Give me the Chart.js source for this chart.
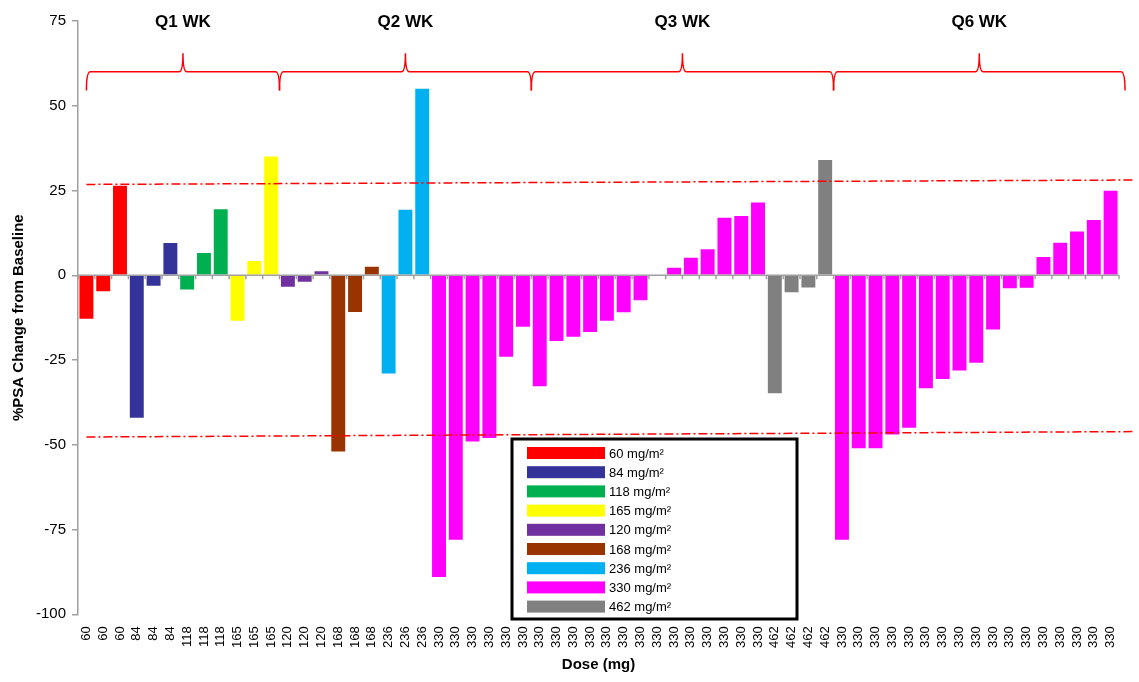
<!DOCTYPE html>
<html>
<head>
<meta charset="utf-8">
<script src="https://cdn.jsdelivr.net/npm/chart.js@4.4.1/dist/chart.umd.min.js"></script>
<style>
  html, body { margin: 0; padding: 0; background: #fff; }
  #wrap { width: 1139px; height: 682px; }
</style>
</head>
<body>
<div id="wrap"><canvas id="chart"></canvas></div>
<script>
// dose (mg) per patient, in plotted order
const doseLabels = [
  '60', '60', '60', '84', '84', '84', '118', '118', '118', '165', '165', '165',
  '120', '120', '120', '168', '168', '168', '236', '236', '236',
  '330', '330', '330', '330', '330', '330',
  '330', '330', '330', '330', '330', '330', '330', '330', '330', '330', '330', '330', '330', '330',
  '462', '462', '462', '462',
  '330', '330', '330', '330', '330', '330', '330', '330', '330', '330', '330', '330', '330', '330', '330', '330', '330'
]

// % PSA change from baseline
const psaChange = [
  -12.8, -4.7, 26.4, -42, -3.1, 9.5, -4.2, 6.6, 19.5, -13.4, 4.2, 35,
  -3.4, -1.9, 1.2, -52, -10.8, 2.5, -29, 19.3, 55,
  -89, -78, -49, -48, -24, -15.2,
  -32.7, -19.4, -18.1, -16.7, -13.4, -10.9, -7.4, 0, 2.2, 5.2, 7.7, 17, 17.5, 21.5,
  -34.8, -5, -3.6, 34,
  -78, -51, -51, -47, -45, -33.3, -30.6, -28.1, -25.8, -16, -3.8, -3.7, 5.4, 9.6, 12.9, 16.3, 24.9
]

const doseLevels = ['60', '84', '118', '165', '120', '168', '236', '330', '462']
const doseColors = ['#ff0000', '#333399', '#00b050', '#ffff00', '#7030a0', '#993300', '#00b0f0', '#ff00ff', '#808080']

const schedules = ['Q1 WK', 'Q2 WK', 'Q3 WK', 'Q6 WK']
const scheduleSizes = [12, 15, 18, 17]

// dash-dot threshold lines (left value, right value)
const upperLine = [26.8, 28.1]
const lowerLine = [-47.7, -46.1]

const FONT = 'Arial, "Liberation Sans", sans-serif'

const datasets = doseLevels.map((dose, k) => ({
  label: dose + ' mg/m²',
  data: psaChange.map((v, i) => doseLabels[i] === dose ? v : null),
  backgroundColor: doseColors[k],
  borderWidth: 0,
  grouped: false,
  barPercentage: 0.83,
  categoryPercentage: 1
}))

const decorations = {
  id: 'decorations',
  afterDatasetsDraw(chart) {
    const { ctx, chartArea, scales } = chart
    const x = scales.x
    const y = scales.y
    const half = (x.getPixelForValue(1) - x.getPixelForValue(0)) / 2
    ctx.save()

    // zero axis with category ticks
    const y0 = y.getPixelForValue(0)
    ctx.strokeStyle = '#a0a0a0'
    ctx.lineWidth = 1.5
    ctx.beginPath()
    ctx.moveTo(chartArea.left, y0)
    ctx.lineTo(chartArea.right, y0)
    for (let i = 0; i <= doseLabels.length; i++) {
      const px = x.getPixelForValue(i) - half
      ctx.moveTo(px, y0)
      ctx.lineTo(px, y0 + 4)
    }
    ctx.stroke()

    // threshold lines
    ctx.strokeStyle = '#ff0000'
    ctx.lineWidth = 1.5
    ctx.setLineDash([9, 3, 2, 3])
    ;[upperLine, lowerLine].forEach(([a, b]) => {
      ctx.beginPath()
      ctx.moveTo(x.getPixelForValue(0), y.getPixelForValue(a))
      ctx.lineTo(chartArea.right + 16, y.getPixelForValue(b))
      ctx.stroke()
    })
    ctx.setLineDash([])

    // schedule braces
    let start = 0
    schedules.forEach((name, s) => {
      const end = start + scheduleSizes[s] - 1
      let x0 = x.getPixelForValue(start) - half
      let x1 = x.getPixelForValue(end) + half
      if (s === 0) x0 = x.getPixelForValue(start)
      if (s === schedules.length - 1) x1 += 6
      const xm = (x0 + x1) / 2
      const yH = y.getPixelForValue(60)
      const yP = y.getPixelForValue(65.5)
      const yE = y.getPixelForValue(54.5)
      ctx.strokeStyle = '#ff0000'
      ctx.lineWidth = 1.5
      ctx.beginPath()
      ctx.moveTo(x0, yE)
      ctx.quadraticCurveTo(x0, yH, x0 + 4, yH)
      ctx.lineTo(xm - 4, yH)
      ctx.quadraticCurveTo(xm, yH, xm, yP)
      ctx.quadraticCurveTo(xm, yH, xm + 4, yH)
      ctx.lineTo(x1 - 4, yH)
      ctx.quadraticCurveTo(x1, yH, x1, yE)
      ctx.stroke()

      ctx.fillStyle = '#000'
      ctx.font = 'bold 17px ' + FONT
      ctx.textAlign = 'center'
      ctx.textBaseline = 'middle'
      ctx.fillText(name, xm, chartArea.top + 1)
      start = end + 1
    })

    // legend box
    const lx = 512, ly = 439, lw = 285, lh = 180
    ctx.fillStyle = '#fff'
    ctx.fillRect(lx, ly, lw, lh)
    ctx.strokeStyle = '#000'
    ctx.lineWidth = 3
    ctx.strokeRect(lx, ly, lw, lh)
    ctx.font = '13px ' + FONT
    ctx.textAlign = 'left'
    ctx.textBaseline = 'middle'
    chart.data.datasets.forEach((ds, k) => {
      const ry = ly + 8 + k * 19.2
      ctx.fillStyle = ds.backgroundColor
      ctx.fillRect(lx + 15, ry, 78, 12)
      ctx.fillStyle = '#000'
      ctx.fillText(ds.label, lx + 97, ry + 7)
    })
    ctx.restore()
  }
}

new Chart(document.getElementById('chart'), {
  type: 'bar',
  data: { labels: doseLabels, datasets },
  options: {
    responsive: true,
    maintainAspectRatio: false,
    animation: false,
    layout: { padding: { top: 21, right: 20, left: 10, bottom: 8 } },
    plugins: {
      legend: { display: false },
      tooltip: { enabled: false }
    },
    scales: {
      x: {
        grid: { display: false, drawTicks: true, tickLength: 8 },
        border: { display: false },
        ticks: {
          autoSkip: false,
          maxRotation: 90,
          minRotation: 90,
          padding: 4,
          color: '#000',
          font: { size: 13, family: FONT }
        },
        title: {
          display: true,
          text: 'Dose (mg)',
          color: '#000',
          font: { size: 15, weight: 'bold', family: FONT },
          padding: { top: 4, bottom: 0 }
        }
      },
      y: {
        min: -100,
        max: 75,
        ticks: {
          stepSize: 25,
          padding: 6,
          color: '#000',
          font: { size: 15, family: FONT }
        },
        grid: { drawOnChartArea: false, color: '#a0a0a0', tickLength: 6, lineWidth: 1.5 },
        border: { color: '#a0a0a0', width: 1.5 },
        title: {
          display: true,
          text: '%PSA Change from Baseline',
          color: '#000',
          font: { size: 15, weight: 'bold', family: FONT },
          padding: { top: 0, bottom: 2 }
        }
      }
    }
  },
  plugins: [decorations]
})
</script>
</body>
</html>
